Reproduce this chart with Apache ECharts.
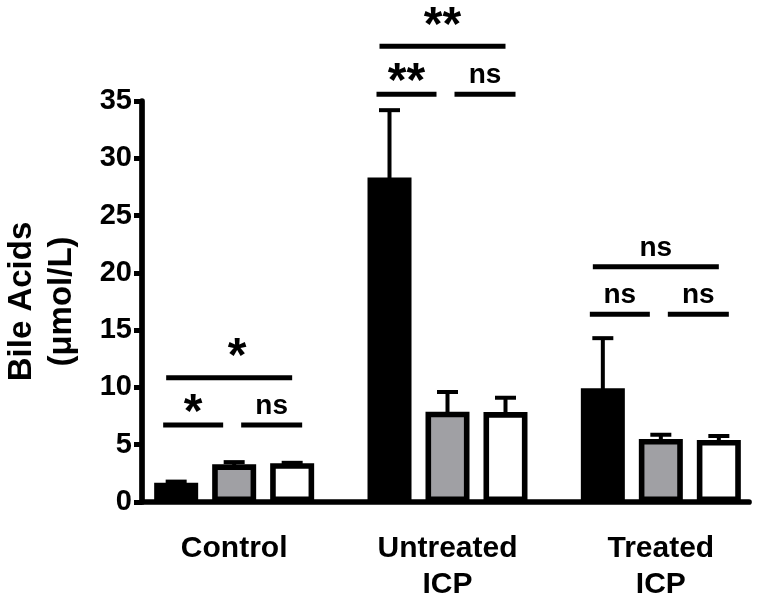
<!DOCTYPE html>
<html>
<head>
<meta charset="utf-8">
<script src="https://cdn.jsdelivr.net/npm/echarts@6/dist/echarts.min.js"></script>
<style>html,body{margin:0;padding:0;background:#fff;}#c{width:757px;height:604px;}</style>
</head>
<body>
<div id="c"></div>
<script>
// ---- data ----
var categories = ['Control', 'Untreated\nICP', 'Treated\nICP'];
var yTicks = [0, 5, 10, 15, 20, 25, 30, 35];
var blackMeans = [1.68, 28.33, 9.92];
var blackUpper = [1.78, 34.2, 14.3];
var grayMeans = [3.29, 7.88, 5.5];
var grayUpper = [3.48, 9.6, 5.87];
var whiteMeans = [3.38, 7.85, 5.41];
var whiteUpper = [3.42, 9.1, 5.76];
// significance brackets
var sigGroups = [0, 0, 0, 1, 1, 1, 2, 2, 2];
var sigKinds = [0, 1, 2, 0, 1, 2, 0, 1, 2]; // 0 = first vs third, 1 = first vs second, 2 = second vs third
var sigLevels = [10.85, 6.72, 6.72, 39.77, 35.6, 35.6, 20.53, 16.38, 16.38];
var sigLabels = ['*', '*', 'ns', '**', '**', 'ns', 'ns', 'ns', 'ns'];

var FONT = "'Liberation Sans', Arial, Helvetica, sans-serif";
var BAR_W = 44, BAR_STEP = 58;

var chart = echarts.init(document.getElementById('c'), null, {renderer: 'canvas'});

var errData = [];
[[blackMeans, blackUpper], [grayMeans, grayUpper], [whiteMeans, whiteUpper]].forEach(function (p, si) {
  for (var i = 0; i < categories.length; i++) errData.push([i, p[0][i], p[1][i], si]);
});
var sigData = sigGroups.map(function (g, i) { return [g, sigLevels[i], sigKinds[i], i]; });

function barStyle(fill) {
  return {color: fill, borderColor: '#000', borderWidth: 5.6, borderJoin: 'miter'};
}

var option = {
  backgroundColor: '#fff',
  animation: false,
  grid: [
    {left: 127.5, right: -10.5, top: 101, bottom: 102, outerBoundsMode: 'none', containLabel: false},
    {left: 142, right: 8, top: 101, bottom: 102, outerBoundsMode: 'none', containLabel: false}
  ],
  xAxis: [
    {
      type: 'category', gridIndex: 0, data: categories,
      axisLine: {show: false}, axisTick: {show: false},
      axisLabel: {fontFamily: FONT, fontWeight: 'bold', fontSize: 30, color: '#000', margin: 29, lineHeight: 36, interval: 0}
    },
    {
      type: 'category', gridIndex: 1, data: [''],
      axisLine: {show: true, onZero: false, lineStyle: {color: '#000', width: 5.7}},
      axisTick: {show: false}, axisLabel: {show: false}
    }
  ],
  yAxis: [
    {
      type: 'value', gridIndex: 0, min: yTicks[0], max: yTicks[yTicks.length - 1], interval: 5,
      offset: -14.5,
      name: 'Bile Acids\n(μmol/L)', nameLocation: 'middle', nameGap: 60,
      nameTextStyle: {fontFamily: FONT, fontWeight: 'bold', fontSize: 33, color: '#000', lineHeight: 40},
      axisLine: {show: true, lineStyle: {color: '#000', width: 5.7}},
      axisTick: {show: true, length: 8, lineStyle: {color: '#000', width: 5}},
      splitLine: {show: false},
      axisLabel: {fontFamily: FONT, fontWeight: 'bold', fontSize: 29, color: '#000', margin: 10}
    },
    {type: 'value', gridIndex: 1, show: false, min: 0, max: 35}
  ],
  series: [
    {type: 'bar', name: 'black', data: blackMeans, barWidth: BAR_W, barGap: '31.8%', itemStyle: barStyle('#000'), z: 3},
    {type: 'bar', name: 'gray', data: grayMeans, barWidth: BAR_W, barGap: '31.8%', itemStyle: barStyle('#a0a0a4'), z: 3},
    {type: 'bar', name: 'white', data: whiteMeans, barWidth: BAR_W, barGap: '31.8%', itemStyle: barStyle('#fff'), z: 3},
    {
      type: 'custom', name: 'err', data: errData, z: 2, clip: false,
      renderItem: function (params, api) {
        var c = api.value(0), m = api.value(1), u = api.value(2), si = api.value(3);
        var p0 = api.coord([c, m]), p1 = api.coord([c, u]);
        var x = p0[0] + (si - 1) * BAR_STEP;
        return {
          type: 'group',
          children: [
            {type: 'line', shape: {x1: x, y1: p0[1] + 3, x2: x, y2: p1[1]}, style: {stroke: '#000', lineWidth: 4}},
            {type: 'line', shape: {x1: x - 10.5, y1: p1[1], x2: x + 10.5, y2: p1[1]}, style: {stroke: '#000', lineWidth: 4}}
          ]
        };
      }
    },
    {
      type: 'custom', name: 'sig', data: sigData, z: 4, clip: false,
      renderItem: function (params, api) {
        var g = api.value(0), lv = api.value(1), k = api.value(2), idx = api.value(3);
        var p = api.coord([g, lv]);
        var x1, x2;
        if (k === 0) { x1 = p[0] - BAR_STEP - 10; x2 = p[0] + BAR_STEP; }
        else if (k === 1) { x1 = p[0] - BAR_STEP - 13; x2 = p[0] - 11; }
        else { x1 = p[0] + 7; x2 = p[0] + BAR_STEP + 10; }
        var lab = sigLabels[idx];
        var isStar = lab.indexOf('*') >= 0;
        var dy = isStar ? (k === 0 ? 19.5 : 11) : 19;
        return {
          type: 'group',
          children: [
            {type: 'line', shape: {x1: x1, y1: p[1], x2: x2, y2: p[1]}, style: {stroke: '#000', lineWidth: 5}},
            {
              type: 'text',
              x: (x1 + x2) / 2 + (k === 0 && isStar && g === 0 ? 8 : 0),
              y: p[1] - dy,
              style: {
                text: lab, fill: '#000', fontFamily: FONT, fontWeight: 'bold',
                fontSize: isStar ? 48 : 28, align: 'center', verticalAlign: 'middle'
              }
            }
          ]
        };
      }
    }
  ]
};
chart.setOption(option);
</script>
</body>
</html>
